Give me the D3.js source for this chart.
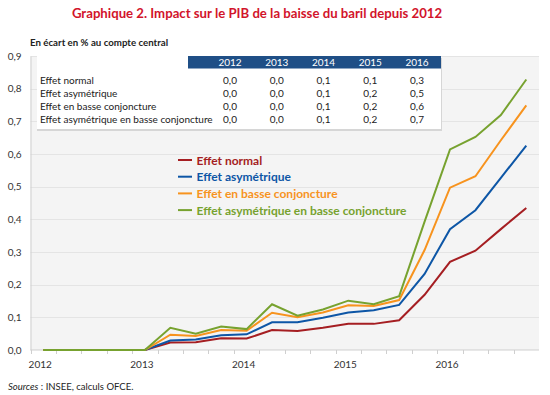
<!DOCTYPE html>
<html>
<head>
<meta charset="utf-8">
<script src="https://cdn.jsdelivr.net/npm/d3@7/dist/d3.min.js"></script>
<style>
  body { margin: 0; background: #fff; }
  svg { display: block; font-family: Lato, "Open Sans", sans-serif; }
</style>
</head>
<body>
<div id="chart"></div>
<script>
// quarterly points, 2012T1 .. 2016T4
var quarters = ["2012T1","2012T2","2012T3","2012T4","2013T1","2013T2","2013T3","2013T4",
                "2014T1","2014T2","2014T3","2014T4","2015T1","2015T2","2015T3","2015T4",
                "2016T1","2016T2","2016T3","2016T4"];
var yearLabels = ["2012","2013","2014","2015","2016"];

var seriesNames = ["Effet normal", "Effet asymétrique", "Effet en basse conjoncture",
                   "Effet asymétrique en basse conjoncture"];
var seriesColors = ["#a51e22", "#0d56a6", "#f7931e", "#77a22f"];

var effetNormal      = [0,0,0,0,0,0.023,0.024,0.036,0.035,0.061,0.058,0.068,0.080,0.080,0.091,0.169,0.270,0.304,0.370,0.435];
var effetAsym        = [0,0,0,0,0,0.029,0.032,0.045,0.048,0.085,0.085,0.099,0.115,0.122,0.138,0.233,0.370,0.428,0.527,0.626];
var effetBasse       = [0,0,0,0,0,0.047,0.043,0.061,0.059,0.114,0.100,0.115,0.137,0.135,0.153,0.306,0.497,0.532,0.642,0.749];
var effetAsymBasse   = [0,0,0,0,0,0.068,0.050,0.072,0.064,0.140,0.105,0.124,0.151,0.140,0.165,0.393,0.614,0.652,0.719,0.828];
var seriesValues = [effetNormal, effetAsym, effetBasse, effetAsymBasse];

// table (annual averages)
var tableYears = ["2012","2013","2014","2015","2016"];
var tableRows = [
  ["0,0","0,0","0,1","0,1","0,3"],
  ["0,0","0,0","0,1","0,2","0,5"],
  ["0,0","0,0","0,1","0,2","0,6"],
  ["0,0","0,0","0,1","0,2","0,7"]
];
var yTicks = [0,0.1,0.2,0.3,0.4,0.5,0.6,0.7,0.8,0.9];

var width = 550, height = 395;
var margin = {left: 30.5, right: 11, top: 56, bottom: 45};

var svg = d3.select("#chart").append("svg")
    .attr("width", width)
    .attr("height", height);

var x = d3.scaleBand()
    .domain(quarters)
    .range([margin.left, width - margin.right])
    .padding(0);
var y = d3.scaleLinear()
    .domain([0, 0.9])
    .range([height - margin.bottom, margin.top]);
var fmt = function(v){ return d3.format(".1f")(v).replace(".", ","); };

// title
svg.append("text")
    .attr("x", 257).attr("y", 18)
    .attr("text-anchor", "middle")
    .style("font-size", "13.2px").style("font-weight", "700")
    .style("fill", "#d2142b")
    .text("Graphique 2. Impact sur le PIB de la baisse du baril depuis 2012");

svg.append("text")
    .attr("x", 30).attr("y", 46)
    .style("font-size", "9.7px").style("font-weight", "700")
    .style("fill", "#222")
    .text("En écart en % au compte central");

// plot background
svg.append("rect")
    .attr("x", margin.left).attr("y", margin.top)
    .attr("width", width - margin.right - margin.left)
    .attr("height", y(0) - margin.top)
    .attr("fill", "#f4f4f4");

// gridlines
svg.append("g")
  .selectAll("line")
  .data(yTicks.slice(1))
  .enter().append("line")
    .attr("x1", margin.left).attr("x2", width - margin.right)
    .attr("y1", function(d){ return Math.round(y(d)) + 0.5; })
    .attr("y2", function(d){ return Math.round(y(d)) + 0.5; })
    .attr("stroke", "#e4e4e4");

// y axis
var yAxis = svg.append("g")
    .attr("transform", "translate(" + margin.left + ",0)")
    .call(d3.axisLeft(y).tickValues(yTicks).tickFormat(fmt).tickSize(0).tickPadding(9));
yAxis.select(".domain").attr("stroke", "#cfcfcf");
yAxis.selectAll("text").style("font-size", "10px").style("fill", "#333")
    .style("font-family", "Lato, sans-serif");

// x axis, ticks between quarters
var xAxisG = svg.append("g")
    .attr("transform", "translate(0," + y(0) + ")");
xAxisG.append("line")
    .attr("x1", margin.left).attr("x2", width - margin.right)
    .attr("stroke", "#cfcfcf");
xAxisG.selectAll(".qtick")
  .data(quarters)
  .enter().append("line")
    .attr("class", "qtick")
    .attr("x1", function(d){ return Math.round(x(d)) + 0.5; })
    .attr("x2", function(d){ return Math.round(x(d)) + 0.5; })
    .attr("y1", 0).attr("y2", 4)
    .attr("stroke", "#cfcfcf");
xAxisG.selectAll(".ylab")
  .data(yearLabels)
  .enter().append("text")
    .attr("x", function(d){ return x(d + "T1") + x.bandwidth() / 2 - 3; })
    .attr("y", 18)
    .attr("text-anchor", "middle")
    .style("font-size", "10px").style("fill", "#333")
    .text(function(d){ return d; });

// lines
var line = d3.line()
    .x(function(d, i){ return x(quarters[i]) + x.bandwidth() / 2; })
    .y(function(d){ return y(d); });

svg.append("g")
  .selectAll("path")
  .data(seriesValues)
  .enter().append("path")
    .attr("d", line)
    .attr("fill", "none")
    .attr("stroke", function(d, i){ return seriesColors[i]; })
    .attr("stroke-width", 2)
    .attr("stroke-linejoin", "miter");

// table box
var tbl = svg.append("g");
tbl.append("rect")
    .attr("x", 37).attr("y", 58)
    .attr("width", 405).attr("height", 73)
    .attr("fill", "#d6d6d6");
tbl.append("rect")
    .attr("x", 37).attr("y", 56)
    .attr("width", 404).attr("height", 73)
    .attr("fill", "#fff");
tbl.append("rect")
    .attr("x", 188).attr("y", 56)
    .attr("width", 253).attr("height", 12.5)
    .attr("fill", "#1f4f86");

var colX = d3.scalePoint()
    .domain(tableYears)
    .range([230, 417]);

tbl.selectAll(".hdr")
  .data(tableYears)
  .enter().append("text")
    .attr("x", function(d){ return colX(d); })
    .attr("y", 66)
    .attr("text-anchor", "middle")
    .style("font-size", "10px").style("fill", "#fff")
    .text(function(d){ return d; });

var rows = tbl.selectAll(".trow")
  .data(tableRows)
  .enter().append("g")
    .attr("class", "trow")
    .attr("transform", function(d, i){ return "translate(0," + (83.5 + i * 13.2) + ")"; });
rows.append("text")
    .attr("x", 40)
    .style("font-size", "10px").style("fill", "#222")
    .text(function(d, i){ return seriesNames[i]; });
rows.selectAll(".val")
  .data(function(d){ return d; })
  .enter().append("text")
    .attr("x", function(d, j){ return colX(tableYears[j]); })
    .attr("text-anchor", "middle")
    .style("font-size", "10px").style("fill", "#222")
    .text(function(d){ return d; });

// legend
var legend = svg.selectAll(".legend")
  .data(seriesNames)
  .enter().append("g")
    .attr("class", "legend")
    .attr("transform", function(d, i){ return "translate(178," + (160 + i * 16.7) + ")"; });
legend.append("line")
    .attr("x1", 0).attr("x2", 14)
    .attr("stroke", function(d, i){ return seriesColors[i]; })
    .attr("stroke-width", 2);
legend.append("text")
    .attr("x", 18.5).attr("y", 4.5)
    .style("font-size", "12px").style("font-weight", "700")
    .style("fill", function(d, i){ return seriesColors[i]; })
    .text(function(d){ return d; });

// source
var src = svg.append("text")
    .attr("x", 8).attr("y", 390)
    .style("font-size", "9.5px").style("fill", "#222");
src.append("tspan").style("font-style", "italic").text("Sources");
src.append("tspan").text(" : INSEE, calculs OFCE.");
</script>
</body>
</html>
